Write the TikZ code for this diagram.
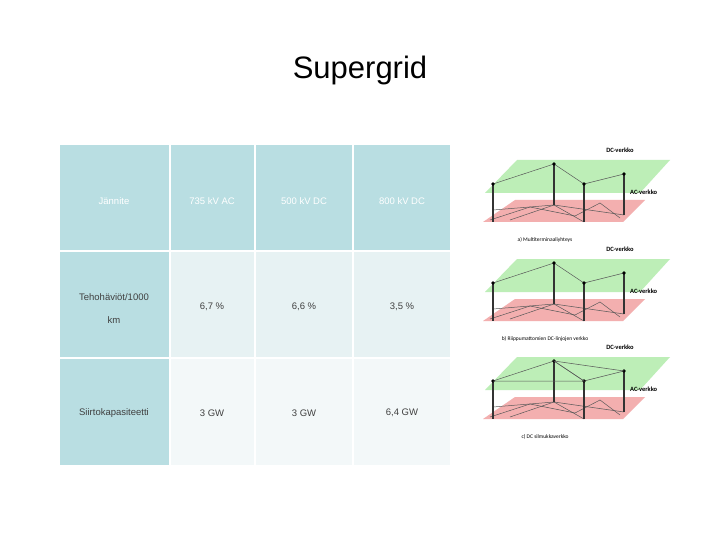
\documentclass[tikz,border=0pt]{standalone}
\usepackage{fontspec}
\setmainfont{Liberation Sans}
\newfontfamily\carl{Carlito}
\definecolor{hdr}{HTML}{B9DEE2}
\definecolor{rowA}{HTML}{E7F2F3}
\definecolor{rowB}{HTML}{F3F8F9}
\definecolor{txt}{HTML}{404040}
\definecolor{gpl}{HTML}{B6EDB0}
\definecolor{rpl}{HTML}{F3AFAF}
\tikzset{cell/.style={inner sep=0pt,align=center,font=\fontsize{9.5}{11}\selectfont},
 hcell/.style={cell,text=white},bcell/.style={cell,text=txt},
 pole/.style={line width=1.3pt,black!80},net/.style={gray!70!black,line width=0.5pt},
 dot/.style={circle,fill=black,inner sep=1.3pt},
 lbl/.style={font=\carl\bfseries\fontsize{6.5}{7}\selectfont,inner sep=0pt}}
\begin{document}
\begin{tikzpicture}[x=1pt,y=-1pt]
\useasboundingbox[fill=white] (0,0) rectangle (720,540);
\node[font=\fontsize{31}{34}\selectfont] (title) at (360,70) {Supergrid};
% table
\fill[hdr] (60,145) rectangle (169,250);
\fill[hdr] (171,145) rectangle (254,250);
\fill[hdr] (256,145) rectangle (352,250);
\fill[hdr] (354,145) rectangle (450,250);
\fill[hdr] (60,252) rectangle (169,357);
\fill[hdr] (60,359) rectangle (169,465);
\fill[rowA] (171,252) rectangle (254,357);
\fill[rowA] (256,252) rectangle (352,357);
\fill[rowA] (354,252) rectangle (450,357);
\fill[rowB] (171,359) rectangle (254,465);
\fill[rowB] (256,359) rectangle (352,465);
\fill[rowB] (354,359) rectangle (450,465);
\node[hcell] (h1) at (114,201) {Jännite};
\node[hcell] (h2) at (212,201) {735 kV AC};
\node[hcell] (h3) at (304,201) {500 kV DC};
\node[hcell] (h4) at (402,201) {800 kV DC};
\node[bcell,text width=100pt,font=\fontsize{9.5}{23}\selectfont] (r1) at (114,309) {Tehohäviöt/1000\\km};
\node[bcell] (r2) at (212,307) {6,7 \%};
\node[bcell] (r3) at (304,307) {6,6 \%};
\node[bcell] (r4) at (402,307) {3,5 \%};
\node[bcell] (s1) at (114,413) {Siirtokapasiteetti};
\node[bcell] (s2) at (212,413) {3 GW};
\node[bcell] (s3) at (304,413) {3 GW};
\node[bcell] (s4) at (402,413) {6,4 GW};
% panels
\foreach \dy/\lab in {0/{a) Multiterminaaliyhteys},99/{b) Riippumattomien DC-linjojen verkko},197/{c) DC silmukkaverkko}}{
\begin{scope}[yshift=-\dy]
\fill[rpl] (515,200) -- (645,200) -- (623,222) -- (483,222) -- cycle;
\draw[net] (490,220) -- (530,207) -- (575,216) -- (600,203) -- (620,218);
\draw[net] (493,210) -- (554,205) -- (584,222);
\draw[net] (510,220) -- (554,205) -- (624,215);
\fill[gpl,opacity=0.9] (517,160) -- (670,160) -- (640,193) -- (485,193) -- cycle;
\draw[pole] (493,184) -- (493,222);
\draw[pole] (554,164) -- (554,205);
\draw[pole] (584,184) -- (584,222);
\draw[pole] (624,174) -- (624,215);
\draw[net] (493,184) -- (554,164) -- (584,184) -- (624,174);
\node[dot] at (493,184) {}; \node[dot] at (554,164) {};
\node[dot] at (584,184) {}; \node[dot] at (624,174) {};
\node[lbl] at (620,150) {DC-verkko};
\node[lbl,anchor=west] at (630,192) {AC-verkko};
\node[lbl,font=\carl\fontsize{5.5}{6}\selectfont] at (545,240) {\lab};
\end{scope}}
% extra links in c
\draw[net] (493,381) -- (584,381) -- (554,361) -- (624,371);
\end{tikzpicture}
\end{document}
